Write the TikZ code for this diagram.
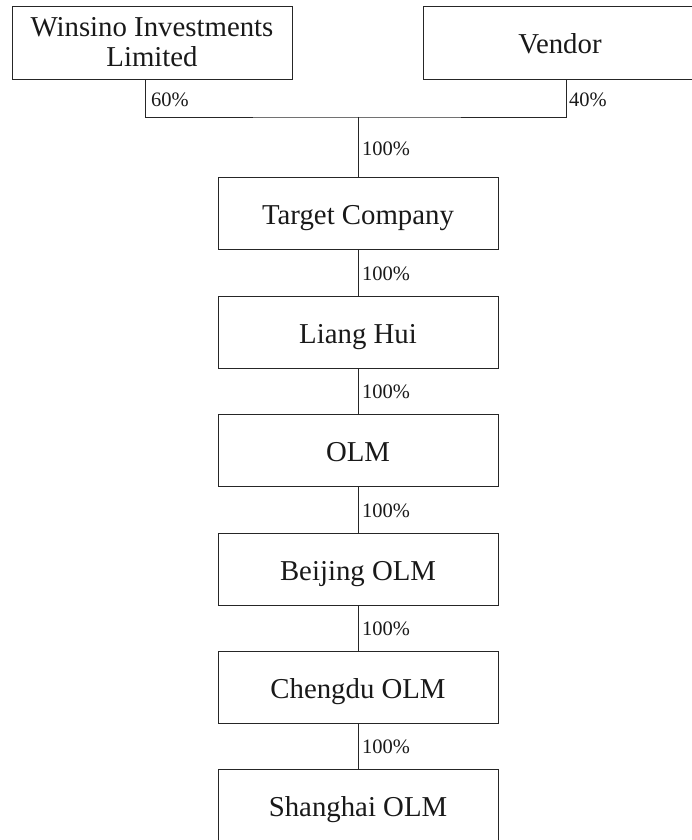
\documentclass[tikz,border=0pt]{standalone}
\usepackage{fontspec}
\setmainfont{Liberation Serif}
\begin{document}
\begin{tikzpicture}[x=1pt,y=-1pt,
  box/.style={draw=black!85, line width=0.9pt, minimum width=280pt, minimum height=72pt, inner sep=0pt, align=center, text=black!90, font=\fontsize{28.8}{30}\selectfont},
  low/.style={text height=29pt, text depth=6pt},
  pct/.style={anchor=west, inner sep=0pt, text=black!90, font=\fontsize{20.5}{22}\selectfont},
  conn/.style={draw=black!85, line width=0.9pt}]
\useasboundingbox (0,0) rectangle (691,840);
\node[box, minimum height=73pt] (w) at (152,42.5) {Winsino Investments\\Limited};
\node[box, low, minimum height=73pt, minimum width=320pt] (v) at (583,42.5) {Vendor\hspace*{46pt}};
\node[box, low] (tc) at (358,213) {Target Company};
\node[box, low] (lh) at (358,332) {Liang Hui};
\node[box, low] (olm) at (358,450) {OLM};
\node[box, low] (bj) at (358,569) {Beijing OLM};
\node[box, low] (cd) at (358,687) {Chengdu OLM};
\node[box, low] (sh) at (358,805) {Shanghai OLM};
\coordinate (wx) at (145,0);
\coordinate (vx) at (566,0);
\coordinate (j) at (358,117);
\draw[conn] (w.south -| wx) |- (j) -| (v.south -| vx);
\draw[conn] (j) -- (tc.north);
\draw[conn] (tc) -- (lh);
\draw[conn] (lh) -- (olm);
\draw[conn] (olm) -- (bj);
\draw[conn] (bj) -- (cd);
\draw[conn] (cd) -- (sh);
\node[pct] (p60) at (151,100) {60\%};
\node[pct] (p40) at (569,100) {40\%};
\node[pct] (p1) at (362,149) {100\%};
\node[pct] (p2) at (362,274) {100\%};
\node[pct] (p3) at (362,392) {100\%};
\node[pct] (p4) at (362,511) {100\%};
\node[pct] (p5) at (362,629) {100\%};
\node[pct] (p6) at (362,747) {100\%};
\end{tikzpicture}
\end{document}
